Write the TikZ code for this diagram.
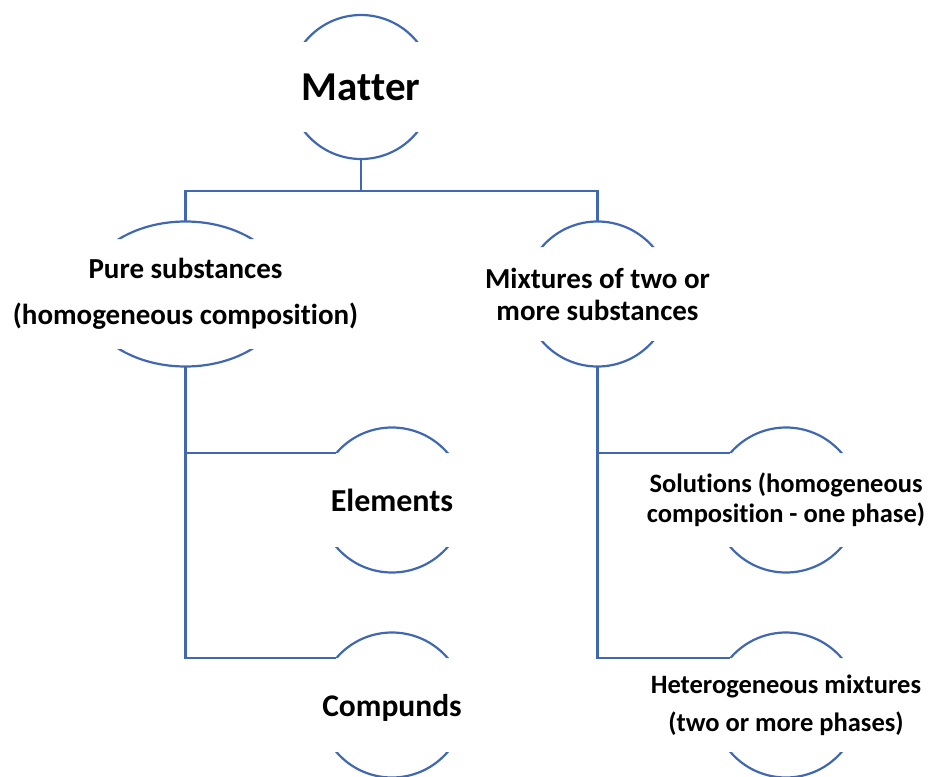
\documentclass[tikz,border=0pt]{standalone}
\usepackage{fontspec}
\setmainfont{Carlito}[Ligatures=CommonOff]
\usetikzlibrary{shapes.geometric, calc}
\definecolor{ringblue}{HTML}{4068B2}
\tikzstyle{ring}=[ellipse, inner sep=0pt, outer sep=0pt]
\tikzstyle{lbl}=[align=center, inner sep=0pt]
\tikzstyle{link}=[draw=ringblue, line width=2.2pt]
\tikzset{lfont/.style 2 args={font=\fontsize{#1}{#2}\selectfont\bfseries}}

% top and bottom arcs of a ring, cut open at the sides
\newcommand{\gapring}[4]{%
  \begin{scope}
    \clip ($(#1.center)+(-#2-3,-#3-3)$) rectangle ($(#1.center)+(#2+3,-#4)$)
          ($(#1.center)+(-#2-3,#4)$) rectangle ($(#1.center)+(#2+3,#3+3)$);
    \draw[link] (#1.center) ellipse[x radius=#2, y radius=#3];
  \end{scope}}

\begin{document}
\begin{tikzpicture}[x=1pt, y=-1pt]
\useasboundingbox (0,0) rectangle (928,776);
% top
\node[ring, minimum width=144, minimum height=144,
  label={[lbl, lfont={41}{48}]center:{Matter}}] (matter) at (361,87) {};
% second row
\node[ring, minimum width=204, minimum height=145,
  label={[lbl, lfont={29}{46}]center:{Pure substances\\(homogeneous composition)}}] (pure) at (185.5,294) {};
\node[ring, minimum width=146, minimum height=145,
  label={[lbl, lfont={29}{32}]center:{Mixtures of two or\\more substances}}] (mix) at (597.5,294) {};
% leaves
\node[ring, minimum width=146, minimum height=145,
  label={[lbl, lfont={32}{36}]center:{Elements}}] (elem) at (392,500) {};
\node[ring, minimum width=146, minimum height=145,
  label={[lbl, lfont={31.5}{36}, yshift=-3]center:{Compunds}}] (comp) at (392,705) {};
\node[ring, minimum width=146, minimum height=145,
  label={[lbl, lfont={26.5}{30}]center:{Solutions (homogeneous\\composition - one phase)}}] (sol) at (786,500) {};
\node[ring, minimum width=146, minimum height=145,
  label={[lbl, lfont={26.5}{38}]center:{Heterogeneous mixtures\\(two or more phases)}}] (het) at (786,705) {};

% the rings
\foreach \n/\rx/\ry/\g in {matter/72/72/45, pure/102/72.5/55, mix/73/72.5/47,
    elem/73/72.5/47, comp/73/72.5/47, sol/73/72.5/47, het/73/72.5/47}
  \gapring{\n}{\rx}{\ry}{\g};

% the connectors
\coordinate (bus) at (361,191);
\draw[link] (matter.south) -- (bus);
\draw[link] (pure.north) -- (pure.north |- bus) -- (mix.north |- bus) -- (mix.north);
\draw[link] (pure.south) |- (elem.140);
\draw[link] (pure.south) |- (comp.140);
\draw[link] (mix.south) |- (sol.140);
\draw[link] (mix.south) |- (het.140);
\end{tikzpicture}
\end{document}
